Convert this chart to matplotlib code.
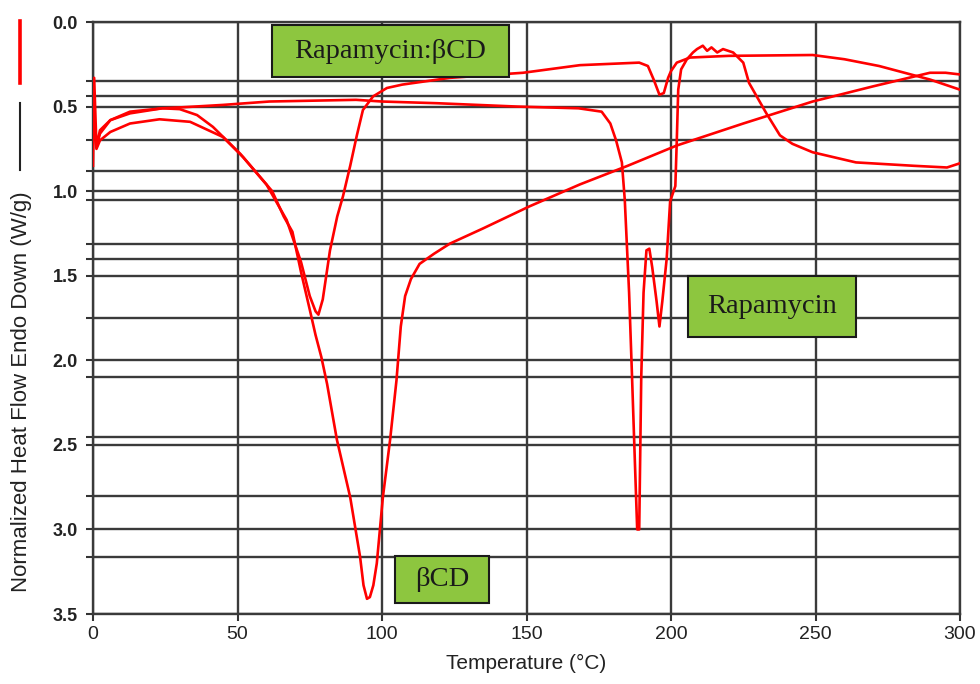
import matplotlib.pyplot as plt
from matplotlib.lines import Line2D
from matplotlib.patches import Rectangle

plt.rcParams['font.family'] = ['Liberation Sans', 'DejaVu Sans']

# DSC traces, temperature (C) vs normalized heat flow (W/g), endo down
bcd_t = [0, 0.4, 1.2, 2.4, 6, 12.8, 23, 33.6, 45, 52, 56, 62, 66, 69, 72, 75, 77, 79, 81,
         84.4, 89, 92.4, 93.6, 94.8, 95.8, 97, 98.2, 100.3, 102.8, 105, 106.5, 108, 110, 113,
         118, 123.5, 135, 151, 168.5, 185, 202, 225, 249, 270, 289.6, 295, 300]
bcd_q = [0.60, 0.62, 0.75, 0.70, 0.65, 0.60, 0.575, 0.59, 0.68, 0.80, 0.88, 1.00, 1.15,
         1.24, 1.48, 1.70, 1.85, 1.98, 2.14, 2.47, 2.81, 3.16, 3.33, 3.41, 3.40, 3.33, 3.20,
         2.81, 2.47, 2.12, 1.80, 1.62, 1.52, 1.43, 1.37, 1.31, 1.22, 1.09, 0.96, 0.85, 0.73,
         0.60, 0.47, 0.38, 0.30, 0.30, 0.31]

complex_t = [0, 0.4, 1.2, 2.4, 6, 12.8, 24, 30, 36, 41.5, 51, 60, 67, 72, 75, 77, 78,
             79.5, 82, 84.5, 86.5, 89, 91.3, 93.4, 96.9, 101.7, 107, 123.5, 148.8, 168.5,
             189, 192, 194, 196, 197.5, 199, 200, 202, 206.6, 220, 249, 260, 272, 289.6, 300]
complex_q = [0.55, 0.60, 0.74, 0.66, 0.58, 0.54, 0.51, 0.515, 0.55, 0.62, 0.78, 0.96, 1.17,
             1.42, 1.62, 1.71, 1.73, 1.64, 1.35, 1.15, 1.03, 0.85, 0.67, 0.52, 0.44, 0.39,
             0.37, 0.33, 0.30, 0.255, 0.24, 0.26, 0.34, 0.43, 0.42, 0.33, 0.29, 0.24, 0.21,
             0.20, 0.195, 0.22, 0.26, 0.34, 0.40]

rapa_t = [0, 0.4, 1.2, 2.4, 6, 12.8, 24, 30, 45, 61, 91, 100, 119, 147, 168, 176, 179, 181,
          183, 184, 185.5, 186.5, 187.5, 188.3, 189, 189.7, 190.5, 191.5, 192.5, 193.5, 195,
          196, 197, 198.5, 199.7, 201.5, 202, 202.5, 203.5, 205.5, 207.6, 209, 211, 212.5,
          214, 216, 218, 221.5, 225, 227, 233, 237.7, 242, 249, 264, 284, 295.5, 300]
rapa_q = [0.85, 0.33, 0.74, 0.64, 0.58, 0.53, 0.51, 0.505, 0.49, 0.47, 0.46, 0.47, 0.48,
          0.50, 0.51, 0.53, 0.60, 0.70, 0.83, 1.05, 1.60, 2.09, 2.60, 3.00, 3.00, 2.10, 1.60,
          1.35, 1.34, 1.45, 1.65, 1.80, 1.65, 1.40, 1.06, 0.97, 0.70, 0.40, 0.28, 0.22, 0.18,
          0.16, 0.14, 0.17, 0.15, 0.18, 0.16, 0.18, 0.24, 0.36, 0.54, 0.67, 0.72, 0.77, 0.83,
          0.85, 0.86, 0.835]

x_ticks = [0, 50, 100, 150, 200, 250, 300]
y_major = [0.0, 0.5, 1.0, 1.5, 2.0, 2.5, 3.0, 3.5]
# extra baselines left over from the overlaid runs
y_extra = [0.35, 0.44, 0.70, 0.88, 1.05, 1.31, 1.40, 1.75, 2.10, 2.455, 2.80, 3.16]

# label boxes: text, (x0, x1) in C, (y0, y1) in W/g
boxes = [('Rapamycin:\u03b2CD', (61.9, 143.9), (0.02, 0.325)),
         ('Rapamycin', (205.9, 264.0), (1.50, 1.86)),
         ('\u03b2CD', (104.5, 137.0), (3.157, 3.435))]

fig = plt.figure(figsize=(9.8, 6.84), dpi=100)
ax = fig.add_axes([0.0949, 0.1023, 0.8847, 0.8655])

red = '#ff0000'
for t, q in [(bcd_t, bcd_q), (complex_t, complex_q), (rapa_t, rapa_q)]:
    ax.plot(t, q, color=red, lw=1.9, zorder=3, solid_joinstyle='round')

ax.set_xlim(0, 300)
ax.set_ylim(3.5, 0)
ax.set_xticks(x_ticks)
ax.set_yticks(y_major)
ax.set_yticks(y_extra, minor=True)
ax.set_yticklabels(['%.1f' % v for v in y_major], fontsize=13, fontweight='bold', color='#222222')
ax.set_xticklabels([str(v) for v in x_ticks], fontsize=14, color='#222222')
ax.tick_params(which='both', direction='out', length=5, width=1.5, color='#333333')
ax.tick_params(axis='y', pad=6)

grid_c = '#3a3a3a'
ax.grid(True, which='major', color=grid_c, lw=1.7, zorder=1)
ax.grid(True, which='minor', axis='y', color=grid_c, lw=1.7, zorder=1)
for s in ax.spines.values():
    s.set_color(grid_c)
    s.set_linewidth(1.7)

ax.set_xlabel('Temperature (\u00b0C)', fontsize=15, color='#222222', labelpad=8)

for text, (x0, x1), (y0, y1) in boxes:
    ax.add_patch(Rectangle((x0, y0), x1 - x0, y1 - y0, facecolor='#8dc63f',
                           edgecolor='#1a1a1a', lw=1.5, zorder=5))
    ax.text((x0 + x1) / 2, (y0 + y1) / 2, text, ha='center', va='center',
            fontsize=20.5, family='Liberation Serif', color='#1a1a1a', zorder=6)

# left-hand key: red trace, black reference line, axis title
fig.add_artist(Line2D([0.0204, 0.0204], [0.969, 0.879], color=red, lw=2.6))
fig.add_artist(Line2D([0.0204, 0.0204], [0.849, 0.751], color='#222222', lw=1.5))
fig.text(0.022, 0.427, 'Normalized Heat Flow Endo Down (W/g)', rotation=90,
         ha='center', va='center', fontsize=16, color='#222222')

fig.savefig('out.png', dpi=100)
